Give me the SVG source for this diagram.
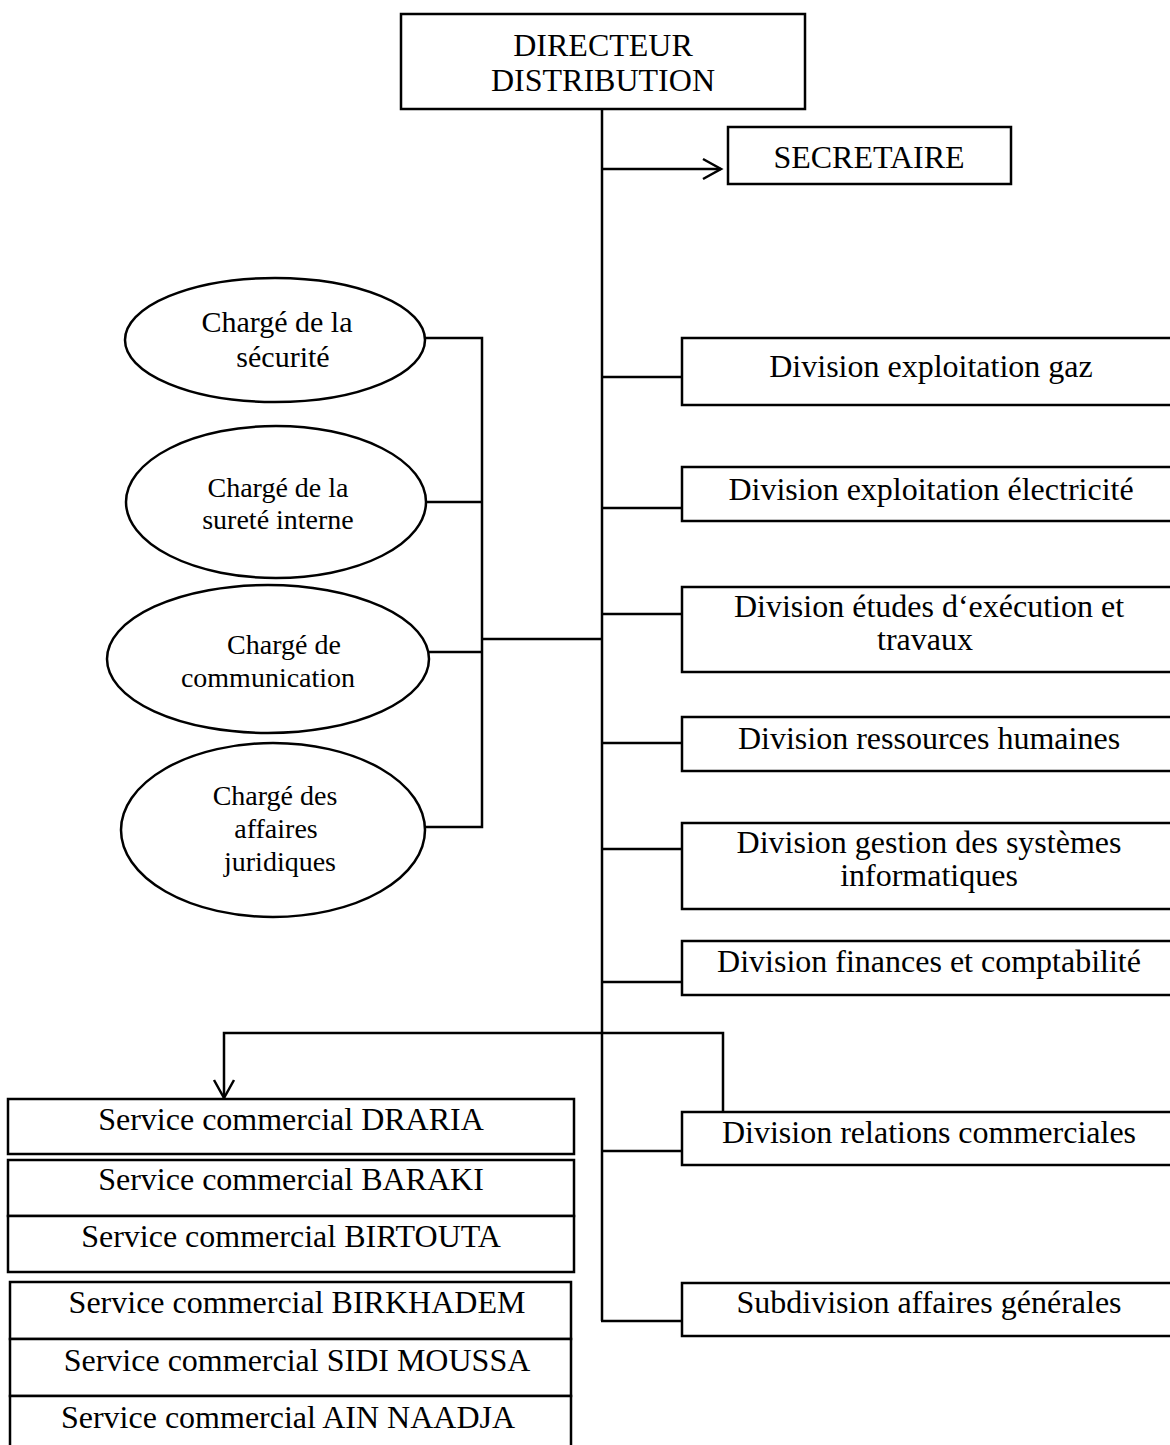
<svg xmlns="http://www.w3.org/2000/svg" width="1170" height="1445" viewBox="0 0 1170 1445">
  <style>
    .box { fill: #fff; stroke: #000; stroke-width: 2.5; }
    .oval { fill: #fff; stroke: #000; stroke-width: 2.5; }
    .line { fill: none; stroke: #000; stroke-width: 2.5; }
    text { font-family: "Liberation Serif", "Times New Roman", serif; fill: #000; text-anchor: middle; }
    .t32 { font-size: 32px; }
    .t30 { font-size: 30px; }
    .t28 { font-size: 28px; }
  </style>
  <defs>
    <marker id="open-arrow" markerUnits="userSpaceOnUse" markerWidth="24" markerHeight="26" viewBox="-20 -12 24 24" refX="0" refY="0" orient="auto">
      <path d="M -18 -10 L 0 0 L -18 10" fill="none" stroke="#000" stroke-width="2.5"/>
    </marker>
  </defs>

  <rect width="1170" height="1445" fill="#fff"/>

  <!-- connectors -->
  <g id="connectors">
    <line class="line" x1="602" y1="109" x2="602" y2="1321"/>
    <line class="line" x1="602" y1="169" x2="721" y2="169" marker-end="url(#open-arrow)"/>
    <line class="line" x1="602" y1="377" x2="682" y2="377"/>
    <line class="line" x1="602" y1="508" x2="682" y2="508"/>
    <line class="line" x1="602" y1="614" x2="682" y2="614"/>
    <line class="line" x1="602" y1="743" x2="682" y2="743"/>
    <line class="line" x1="602" y1="849" x2="682" y2="849"/>
    <line class="line" x1="602" y1="982" x2="682" y2="982"/>
    <line class="line" x1="602" y1="1151" x2="682" y2="1151"/>
    <line class="line" x1="601" y1="1321" x2="682" y2="1321"/>
    <!-- staff officers bracket -->
    <polyline class="line" points="424,338 482,338 482,827 424,827"/>
    <line class="line" x1="425" y1="502" x2="482" y2="502"/>
    <line class="line" x1="428" y1="652" x2="482" y2="652"/>
    <line class="line" x1="482" y1="639" x2="602" y2="639"/>
    <!-- commercial relations to sales services -->
    <polyline class="line" points="723,1112 723,1033 224,1033 224,1098" marker-end="url(#open-arrow)"/>
  </g>

  <g id="directeur">
    <rect class="box" x="401" y="14" width="404" height="95"/>
    <text class="t32" x="603" y="56">DIRECTEUR</text>
    <text class="t32" x="603" y="91">DISTRIBUTION</text>
  </g>

  <g id="secretaire">
    <rect class="box" x="728" y="127" width="283" height="57"/>
    <text class="t32" x="869" y="168">SECRETAIRE</text>
  </g>

  <g id="charge-securite">
    <ellipse class="oval" cx="275" cy="340" rx="150" ry="62"/>
    <text class="t30" x="277" y="332">Chargé de la</text>
    <text class="t30" x="283" y="367">sécurité</text>
  </g>

  <g id="charge-surete">
    <ellipse class="oval" cx="276" cy="502" rx="150" ry="76"/>
    <text class="t28" x="278" y="497">Chargé de la</text>
    <text class="t28" x="278" y="529">sureté interne</text>
  </g>

  <g id="charge-communication">
    <ellipse class="oval" cx="268" cy="659" rx="161" ry="74"/>
    <text class="t28" x="284" y="654">Chargé de</text>
    <text class="t28" x="268" y="687">communication</text>
  </g>

  <g id="charge-juridique">
    <ellipse class="oval" cx="273" cy="830" rx="152" ry="87"/>
    <text class="t28" x="275" y="805">Chargé des</text>
    <text class="t28" x="276" y="838">affaires</text>
    <text class="t28" x="280" y="871">juridiques</text>
  </g>

  <g id="div-gaz">
    <rect class="box" x="682" y="338" width="500" height="67"/>
    <text class="t32" x="931" y="377">Division exploitation gaz</text>
  </g>

  <g id="div-electricite">
    <rect class="box" x="682" y="467" width="500" height="54"/>
    <text class="t32" x="931" y="500">Division exploitation électricité</text>
  </g>

  <g id="div-etudes">
    <rect class="box" x="682" y="587" width="500" height="85"/>
    <text class="t32" x="929" y="617">Division études d‘exécution et</text>
    <text class="t32" x="925" y="650">travaux</text>
  </g>

  <g id="div-rh">
    <rect class="box" x="682" y="717" width="500" height="54"/>
    <text class="t32" x="929" y="749">Division ressources humaines</text>
  </g>

  <g id="div-si">
    <rect class="box" x="682" y="823" width="500" height="86"/>
    <text class="t32" x="929" y="853">Division gestion des systèmes</text>
    <text class="t32" x="929" y="886">informatiques</text>
  </g>

  <g id="div-finances">
    <rect class="box" x="682" y="941" width="500" height="54"/>
    <text class="t32" x="929" y="972">Division finances et comptabilité</text>
  </g>

  <g id="div-relations">
    <rect class="box" x="682" y="1112" width="500" height="53"/>
    <text class="t32" x="929" y="1143">Division relations commerciales</text>
  </g>

  <g id="subdiv-affaires">
    <rect class="box" x="682" y="1283" width="500" height="53"/>
    <text class="t32" x="929" y="1313">Subdivision affaires générales</text>
  </g>

  <g id="sc-draria">
    <rect class="box" x="8" y="1099" width="566" height="55"/>
    <text class="t32" x="291" y="1130">Service commercial DRARIA</text>
  </g>

  <g id="sc-baraki">
    <rect class="box" x="8" y="1160" width="566" height="56"/>
    <text class="t32" x="291" y="1190">Service commercial BARAKI</text>
  </g>

  <g id="sc-birtouta">
    <rect class="box" x="8" y="1216" width="566" height="56"/>
    <text class="t32" x="291" y="1247">Service commercial BIRTOUTA</text>
  </g>

  <g id="sc-birkhadem">
    <rect class="box" x="10" y="1282" width="561" height="57"/>
    <text class="t32" x="297" y="1313">Service commercial BIRKHADEM</text>
  </g>

  <g id="sc-sidi-moussa">
    <rect class="box" x="10" y="1339" width="561" height="57"/>
    <text class="t32" x="297" y="1371">Service commercial SIDI MOUSSA</text>
  </g>

  <g id="sc-ain-naadja">
    <rect class="box" x="10" y="1396" width="561" height="60"/>
    <text class="t32" x="288" y="1428">Service commercial AIN NAADJA</text>
  </g>
</svg>
